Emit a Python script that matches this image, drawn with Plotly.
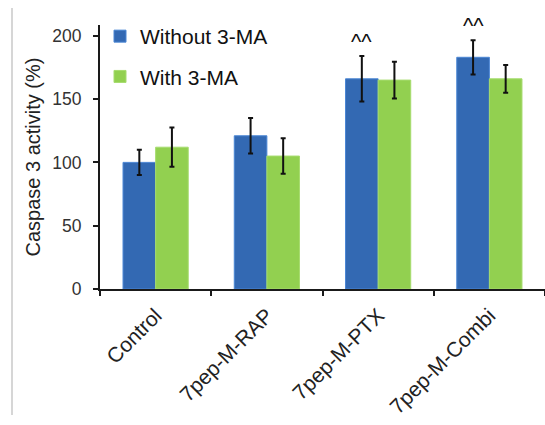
import plotly.graph_objects as go

# Caspase 3 activity per treatment, with and without 3-MA
categories = ["Control", "7pep-M-RAP", "7pep-M-PTX", "7pep-M-Combi"]
without_3ma = [100, 121, 166, 183]
without_3ma_err = [10, 14, 18, 13.5]
with_3ma = [112, 105, 165, 166]
with_3ma_err = [15.5, 14, 14.5, 11]
significance = ["", "", "^^", "^^"]
y_ticks = [0, 50, 100, 150, 200]

FONT = "Liberation Sans, Arial, sans-serif"
BLUE = "#3369b3"
GREEN = "#92d050"

W, H = 545, 425
margin = dict(l=100, r=0, t=25, b=136)
bargap = 0.414
plot_w = W - margin["l"] - margin["r"]
plot_h = H - margin["t"] - margin["b"]
# half a bar width in pixels, used to centre the markers over the blue bars
half_bar_px = plot_w / len(categories) * (1 - bargap) / 4

fig = go.Figure()
fig.add_trace(go.Bar(
    name="Without 3-MA", x=categories, y=without_3ma,
    marker=dict(color=BLUE, line=dict(color="#4a86d4", width=1)),
    error_y=dict(type="data", array=without_3ma_err, color="#111", thickness=2, width=2.5),
    legendgroup="a",
))
fig.add_trace(go.Bar(
    name="With 3-MA", x=categories, y=with_3ma,
    marker=dict(color=GREEN, line=dict(color="#a6dc6e", width=1)),
    error_y=dict(type="data", array=with_3ma_err, color="#111", thickness=2, width=2.5),
    legendgroup="b",
))

for cat, v, e, s in zip(categories, without_3ma, without_3ma_err, significance):
    if s:
        fig.add_annotation(
            x=cat, y=v + e, text=s, showarrow=False, xshift=-half_bar_px,
            yanchor="bottom", yshift=0, font=dict(family=FONT, size=22, color="#111"),
        )

# thin grey frame line at the far left of the page
frame_x = (12 - margin["l"]) / plot_w
fig.add_shape(type="line", xref="paper", yref="paper",
              x0=frame_x, x1=frame_x,
              y0=-(H - margin["t"] - 10 - plot_h) / plot_h,
              y1=1 + (margin["t"] - 8) / plot_h,
              line=dict(color="#c8c8c8", width=1.5))

fig.update_layout(
    width=W, height=H, margin=margin,
    paper_bgcolor="white", plot_bgcolor="white",
    barmode="group", bargap=bargap, bargroupgap=0,
    font=dict(family=FONT, size=17, color="#222"),
    showlegend=True,
    legend=dict(x=0.0, y=1 + 9 / plot_h, xanchor="left", yanchor="top",
                font=dict(family=FONT, size=21, color="#111"),
                bgcolor="rgba(0,0,0,0)", tracegroupgap=10, itemwidth=30),
    xaxis=dict(
        type="category", range=[-0.5, len(categories) - 0.5],
        showline=True, linecolor="#1a1a1a", linewidth=2,
        ticks="outside", tickson="boundaries", ticklen=5, tickwidth=2, tickcolor="#1a1a1a",
        tickangle=-45, ticklabelstandoff=4,
        tickfont=dict(family=FONT, size=21, color="#222"),
        showgrid=False, zeroline=False,
    ),
    yaxis=dict(
        range=[0, 208.5], tickvals=y_ticks,
        showline=True, linecolor="#1a1a1a", linewidth=2,
        ticks="outside", ticklen=5, tickwidth=2, tickcolor="#1a1a1a",
        ticklabelstandoff=8,
        tickfont=dict(family=FONT, size=17.5, color="#333"),
        showgrid=False, zeroline=False,
        title=dict(text="Caspase 3 activity (%)", font=dict(family=FONT, size=20, color="#222"),
                   standoff=6),
    ),
)

fig.write_html("out.html")
